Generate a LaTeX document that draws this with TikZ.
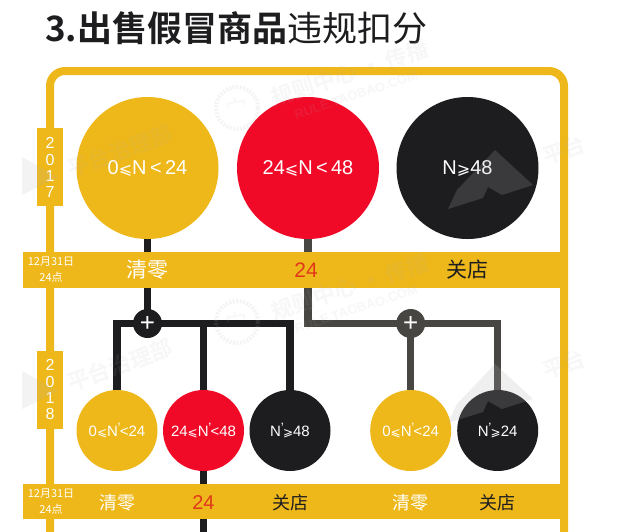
\documentclass[tikz,border=0pt]{standalone}
\usepackage{fontspec}
\setmainfont{Liberation Sans}
\newfontfamily\cjk{Noto Sans CJK SC}
\newfontfamily\cjkb{Noto Sans CJK SC Bold}
\newfontfamily\sym{DejaVu Sans}
\usetikzlibrary{calc}
\definecolor{gold}{HTML}{EEB81A}
\definecolor{crim}{HTML}{F00A28}
\definecolor{ink}{HTML}{1D1D1F}
\definecolor{slate}{HTML}{474643}
\definecolor{burnt}{HTML}{E0391A}
\definecolor{wm}{gray}{0.7}
\pgfdeclarelayer{bg}
\pgfsetlayers{bg,main}
\newcommand{\LE}{{\sym\scalebox{0.8}{⩽}}}
\newcommand{\GE}{{\sym\scalebox{0.8}{⩾}}}
\newcommand{\Np}{N\kern-0.02em\raisebox{0.3em}{\scalebox{0.9}{'}}\kern-0.05em}
\newcommand{\Low}[1]{\raisebox{-5pt}{#1}}
\tikzset{
  big/.style={circle,minimum size=142pt,inner sep=0pt,text=white,font=\fontsize{20}{22}\selectfont},
  small/.style={circle,minimum size=81pt,inner sep=0pt,text=white,font=\fontsize{15}{17}\selectfont},
  joint/.style={circle,minimum size=29pt,inner sep=0pt,text=white,font=\fontsize{26}{26}\selectfont},
  band/.style={fill=gold,draw=none},
  blackline/.style={draw=ink,line width=7.5pt},
  greyline/.style={draw=slate,line width=7.5pt},
  yearlabel/.style={fill=gold,minimum width=26pt,minimum height=78pt,inner sep=0pt,text=white,align=center,font=\fontsize{16}{16}\selectfont},
  datelabel/.style={text=white,align=center,inner sep=0pt,font=\cjk\fontsize{11}{16}\selectfont},
  outA/.style={font=\cjk\fontsize{21}{21}\selectfont,inner sep=0pt},
  outB/.style={font=\cjk\fontsize{18}{18}\selectfont,inner sep=0pt}
}
\newcommand{\Tile}[1]{%
\begin{scope}[shift={(0,#1)},fill opacity=.2,text opacity=.1,text=wm]
  \fill[wm,fill opacity=.15] (22,157)--(58,177)--(22,195)--cycle;
  \node[rotate=20,font=\cjkb\fontsize{22}{22}\selectfont] (wmA#1) at (120,151) {平台治理部};
  \draw[wm,line width=4pt,draw opacity=.14,dash pattern=on 2pt off 1.5pt] (237,108) circle (21);
  \node[rotate=10,font=\cjk\fontsize{22}{22}\selectfont] (wmB#1) at (237,108) {宀};
  \node[rotate=18,font=\cjkb\fontsize{22}{22}\selectfont] (wmC#1) at (350,73) {规则中心 · 传播};
  \node[rotate=18,font=\bfseries\fontsize{13}{13}\selectfont] (wmD#1) at (356,95) {RULE.TAOBAO.COM};
  \fill[wm] (448,209)--(457,190)--(495,150)--(533,185)--(502,195)--(488,187)--(483,198)--cycle;
  \node[rotate=20,font=\cjkb\fontsize{22}{22}\selectfont] (wmE#1) at (564,150) {平台};
\end{scope}}
\begin{document}
\begin{tikzpicture}[x=1pt,y=-1pt]
\useasboundingbox (0,0) rectangle (640,531);
\begin{pgfonlayer}{bg}
\fill[white] (0,0) rectangle (640,531);
\draw[gold,line width=8pt,rounded corners=15pt] (50,536) -- (50,71) -- (564,71) -- (564,536);
\end{pgfonlayer}

\node[anchor=west,inner sep=0pt,text=ink] (title) at (45,28) {\fontsize{35}{36}\selectfont\cjkb 3.出售假冒商品\cjk 违规扣分};

% bands
\fill[band] (23,252) rectangle (568,287.5);
\fill[band] (23,484) rectangle (568,519);
\node[yearlabel] (y17) at (50,167) {2\\[1pt]0\\1\\7};
\node[yearlabel] (y18) at (50,389.5) {2\\[1pt]0\\1\\8};
\node[datelabel] (d17) at (51,269.5) {12月31日\\24点};
\node[datelabel] (d18) at (51,501.5) {12月31日\\24点};

% circles
\node[big,fill=gold] (a1) at (147.5,168) {\Low{0\LE N\,<\,24}};
\node[big,fill=crim] (a2) at (308,168) {\Low{24\LE N\,<\,48}};
\node[big,fill=ink] (a3) at (467.5,168) {\Low{N\GE 48}};
\node[small,fill=gold] (b1) at (117,430.5) {0\LE\Np<24};
\node[small,fill=crim] (b2) at (203.5,430.5) {24\LE\Np<48};
\node[small,fill=ink] (b3) at (290,430.5) {\Np\GE 48};
\node[small,fill=gold] (b4) at (410.7,430.5) {0\LE\Np<24};
\node[small,fill=ink] (b5) at (497.7,430.5) {\Np\GE 24};
\node[joint,fill=ink] (p1) at (147.5,323.5) {+};
\node[joint,fill=slate] (p2) at (410.7,323.5) {+};
\coordinate (endstem) at (203.5,536);

% band labels
\node[outA,text=white] (l1) at (147.5,270) {清零};
\node[font=\fontsize{21}{21}\selectfont,text=burnt,inner sep=0pt] (l2) at (306,270) {24};
\node[outA,text=ink] (l3) at (467.5,270) {关店};
\node[outB,text=white] (m1) at (117,503) {清零};
\node[font=\fontsize{20}{20}\selectfont,text=burnt,inner sep=0pt] (m2) at (203.5,503) {24};
\node[outB,text=ink] (m3) at (290,503) {关店};
\node[outB,text=white] (m4) at (410.7,503) {清零};
\node[outB,text=ink] (m5) at (497.7,503) {关店};

% connectors
\begin{pgfonlayer}{bg}
\draw[blackline] (a1.center) -- (p1.center);
\draw[blackline] (b1.center) |- (p1.center) -| (b3.center);
\draw[blackline] (b2.center |- p1.center) -- (endstem);
\draw[greyline] (a2.center) |- (p2.center) -| (b5.center);
\draw[greyline] (p2.center) -- (b4.center);
\end{pgfonlayer}

% watermarks
\Tile{0}
\Tile{214}
\end{tikzpicture}
\end{document}
